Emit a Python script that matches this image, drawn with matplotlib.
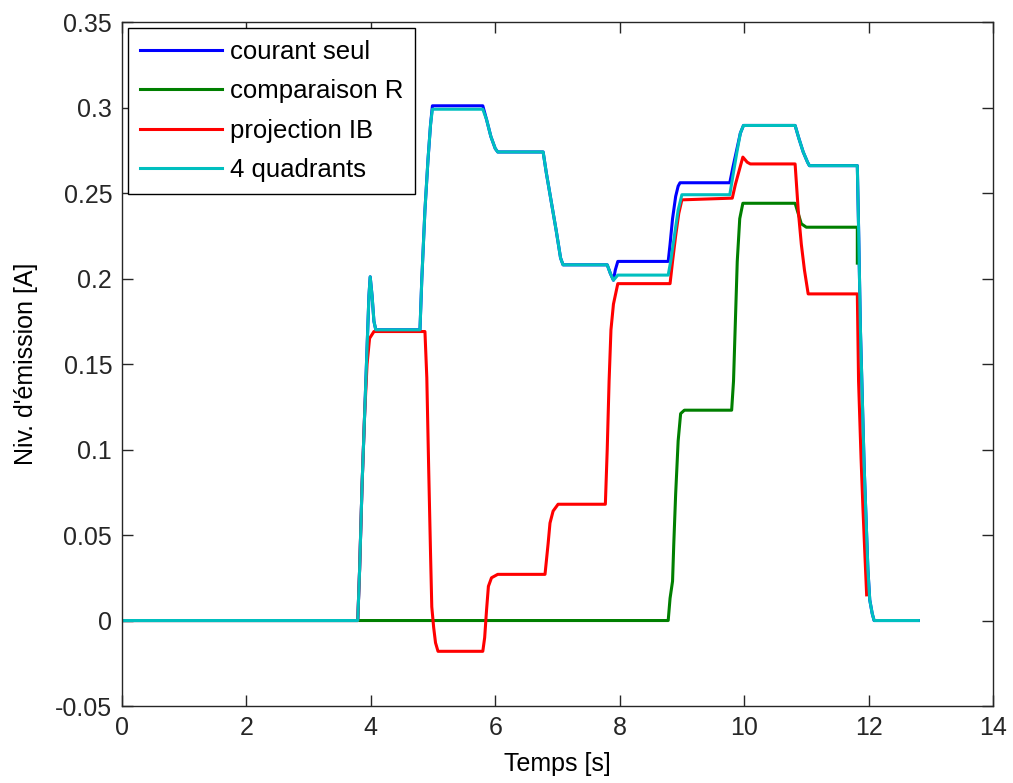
import matplotlib
matplotlib.use('Agg')
import matplotlib.pyplot as plt
from matplotlib.ticker import FuncFormatter

plt.rcParams['font.family'] = ['Liberation Sans', 'DejaVu Sans']
plt.rcParams['axes.unicode_minus'] = False

# courant seul (blue)
t_courant = [0, 3.79, 3.82, 3.86, 3.90, 3.94, 3.97, 3.99, 4.02, 4.05, 4.08, 4.79, 4.82, 4.87,
             4.92, 4.96, 4.99, 5.80, 5.86, 5.93, 6.00, 6.04, 6.77, 6.82, 6.90, 6.98, 7.05, 7.09,
             7.80, 7.85, 7.90, 7.93, 7.97, 8.78, 8.81, 8.85, 8.90, 8.94, 8.97, 9.77, 9.82, 9.88,
             9.94, 9.99, 10.82, 10.88, 10.95, 11.02, 11.05, 11.82, 11.84, 11.87, 11.90, 11.93,
             11.96, 11.99, 12.02, 12.06, 12.09, 12.80]
v_courant = [0, 0, 0.03, 0.08, 0.12, 0.16, 0.19, 0.201, 0.19, 0.175, 0.17, 0.17, 0.20, 0.24,
             0.27, 0.29, 0.301, 0.301, 0.293, 0.283, 0.276, 0.274, 0.274, 0.262, 0.245, 0.228,
             0.212, 0.208, 0.208, 0.203, 0.199, 0.205, 0.21, 0.21, 0.22, 0.235, 0.248, 0.254,
             0.256, 0.256, 0.265, 0.275, 0.285, 0.2895, 0.2895, 0.282, 0.274, 0.268, 0.266,
             0.266, 0.23, 0.17, 0.13, 0.09, 0.06, 0.03, 0.012, 0.004, 0, 0]

# comparaison R (green)
t_comp = [0, 8.78, 8.81, 8.85, 8.87, 8.90, 8.94, 8.98, 9.04, 9.80, 9.83, 9.86, 9.89, 9.93,
          9.98, 10.82, 10.87, 10.92, 11.00, 11.06, 11.82, 11.82]
v_comp = [0, 0, 0.013, 0.023, 0.045, 0.074, 0.105, 0.121, 0.123, 0.123, 0.14, 0.175, 0.21,
          0.235, 0.244, 0.244, 0.238, 0.232, 0.23, 0.23, 0.23, 0.209]

# projection IB (red)
t_proj = [0, 3.79, 3.82, 3.86, 3.90, 3.94, 3.98, 4.05, 4.87, 4.90, 4.93, 4.96, 4.98, 5.01,
          5.04, 5.08, 5.80, 5.83, 5.86, 5.89, 5.94, 6.04, 6.80, 6.85, 6.88, 6.93, 7.01, 7.77,
          7.80, 7.83, 7.86, 7.90, 7.97, 8.81, 8.85, 8.90, 8.95, 9.00, 9.81, 9.86, 9.92, 9.98,
          10.05, 10.10, 10.82, 10.87, 10.92, 10.97, 11.03, 11.82, 11.84, 11.88, 11.91, 11.94,
          11.97]
v_proj = [0, 0, 0.03, 0.08, 0.12, 0.15, 0.165, 0.169, 0.169, 0.142, 0.089, 0.039, 0.008,
          -0.004, -0.013, -0.018, -0.018, -0.01, 0.006, 0.02, 0.025, 0.027, 0.027, 0.045,
          0.057, 0.064, 0.068, 0.068, 0.10, 0.14, 0.17, 0.185, 0.197, 0.197, 0.21, 0.225,
          0.238, 0.246, 0.247, 0.255, 0.263, 0.271, 0.268, 0.267, 0.267, 0.24, 0.22, 0.205,
          0.191, 0.191, 0.14, 0.095, 0.066, 0.04, 0.015]

# 4 quadrants (cyan)
t_quad = [0, 3.79, 3.82, 3.86, 3.90, 3.94, 3.97, 3.99, 4.02, 4.05, 4.08, 4.79, 4.82, 4.87,
          4.92, 4.96, 4.99, 5.80, 5.86, 5.93, 6.00, 6.04, 6.77, 6.82, 6.90, 6.98, 7.05, 7.09,
          7.80, 7.85, 7.90, 7.97, 8.78, 8.82, 8.88, 8.94, 9.00, 9.77, 9.82, 9.88, 9.94, 9.99,
          10.82, 10.88, 10.95, 11.02, 11.05, 11.82, 11.84, 11.87, 11.90, 11.93, 11.96, 11.99,
          12.02, 12.06, 12.09, 12.80]
v_quad = [0, 0, 0.03, 0.08, 0.12, 0.16, 0.19, 0.201, 0.19, 0.175, 0.17, 0.17, 0.20, 0.24,
          0.27, 0.29, 0.299, 0.299, 0.293, 0.283, 0.276, 0.274, 0.274, 0.262, 0.245, 0.228,
          0.212, 0.208, 0.208, 0.203, 0.199, 0.202, 0.202, 0.21, 0.225, 0.24, 0.249, 0.249,
          0.26, 0.273, 0.285, 0.2895, 0.2895, 0.282, 0.274, 0.268, 0.266, 0.266, 0.23, 0.17,
          0.13, 0.09, 0.06, 0.03, 0.012, 0.004, 0, 0]

labels = ['courant seul', 'comparaison R', 'projection IB', '4 quadrants']
colors = ['#0000ff', '#007f00', '#ff0000', '#00bfbf']
x_ticks = [0, 2, 4, 6, 8, 10, 12, 14]
y_ticks = [-0.05, 0, 0.05, 0.1, 0.15, 0.2, 0.25, 0.3, 0.35]

fig = plt.figure(figsize=(10.13, 7.83), dpi=100)
ax = fig.add_axes([0.1204, 0.0983, 0.8598, 0.8736])

series = [(t_courant, v_courant), (t_comp, v_comp), (t_proj, v_proj), (t_quad, v_quad)]
for (xs, ys), c, lab in zip(series, colors, labels):
    ax.plot(xs, ys, color=c, linewidth=2.2, label=lab)

ax.set_xlim(0, 14)
ax.set_ylim(-0.05, 0.35)
ax.set_xticks(x_ticks)
ax.set_yticks(y_ticks)
ax.yaxis.set_major_formatter(FuncFormatter(lambda v, p: '%g' % round(v, 3)))
ax.tick_params(direction='in', length=8, width=1, top=True, right=True,
               labelsize=18, colors='#262626', pad=7)
for s in ax.spines.values():
    s.set_color('#262626')
    s.set_linewidth(1.0)

ax.set_xlabel('Temps [s]', fontsize=18, labelpad=9)
ax.set_ylabel("Niv. d'émission [A]", fontsize=18, labelpad=12)

leg = ax.legend(loc='upper left', fontsize=18.5, fancybox=False, framealpha=1,
                edgecolor='black', borderaxespad=0.25, handlelength=3.2,
                handletextpad=0.3, labelspacing=0.6, borderpad=0.45)
leg.get_frame().set_linewidth(1.0)

fig.savefig('out.png', dpi=100, facecolor='white')
